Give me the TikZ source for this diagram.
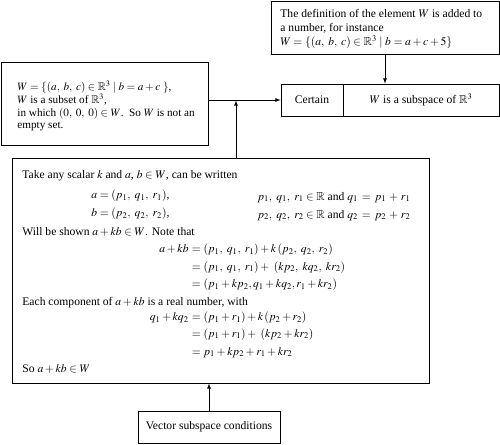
\documentclass[tikz,border=0pt]{standalone}
\usepackage{amssymb}
\usepackage{mathptmx}
\usepackage[no-math]{fontspec}
\setmainfont{Liberation Serif}

\begin{document}
\begin{tikzpicture}[x=1pt, y=-1pt, >=latex, line width=.8pt,
    every node/.style={font=\fontsize{11.6}{13.9}\selectfont},
    box/.style={draw, line width=.8pt, inner sep=0pt},
    txt/.style={anchor=base west, inner sep=0pt},
    lhs/.style={anchor=base east, inner sep=0pt}]
       \useasboundingbox (0,0) rectangle (500,444);

       % upper right: the other definition
       \node[box, minimum width=228pt, minimum height=53pt] (defbox) at (385,27.5) {};
       \node[anchor=west, inner sep=0pt, align=left,
             font=\fontsize{11.6}{14.3}\selectfont] (deftext) at (280,29)
       {The definition of the element $W$ is added to\\
        a number, for instance\\
        $W=\{(a,\;b,\;c)\in\mathbb{R}^3 \mid b=a+c+5\}$};

       % left: the set W
       \node[box, minimum width=207pt, minimum height=83pt] (setbox) at (104.5,104) {};
       \node[anchor=west, inner sep=0pt, align=left,
             font=\fontsize{11.2}{12.4}\selectfont] (settext) at (17,106)
       {$W=\{(a,\;b,\;c)\in\mathbb{R}^3 \mid b=a+c\ \}$,\\
        $W$ is a subset of $\mathbb{R}^3$,\\
        in which $(0,\;0,\;0)\in W$.\ \ So $W$ is not an\\
        empty set.};

       % result
       \node[box, minimum width=62pt, minimum height=32pt] (certbox) at (312,100) {Certain};
       \node[box, minimum width=156pt, minimum height=32pt] (subbox) at (421,100)
       {$W$ is a subspace of $\mathbb{R}^3$};

       % the proof
       \node[box, minimum width=417pt, minimum height=225pt] (proofbox) at (220.5,270.5) {};
       \node[txt] (intro) at (22,178.5) {Take any scalar $k$ and $a$, $b\in W$, can be written};
       \node[txt] (avec) at (91,198.5) {$a=(p_1,\ q_1,\ r_1)$,};
       \node[txt] (acond) at (257,200) {$p_1,\ q_1,\ r_1\in\mathbb{R}$ and $q_1\,=\,p_1\,+\,r_1$};
       \node[txt] (bvec) at (91,216.5) {$b=(p_2,\ q_2,\ r_2)$,};
       \node[txt] (bcond) at (257,218) {$p_2,\ q_2,\ r_2\in\mathbb{R}$ and $q_2\,=\,p_2\,+\,r_2$};
       \node[txt] (shown) at (22,235.5) {Will be shown $a+kb\in W$. Note that};
       \node[lhs] (eqal) at (189,252.5) {$a+kb$};
       \node[txt] (eqa1) at (189,252.5) {${}=(p_1,\ q_1,\ r_1)+k\,(p_2,\ q_2,\ r_2)$};
       \node[txt] (eqa2) at (189,270) {${}=(p_1,\ q_1,\ r_1)+\ (kp_2,\ kq_2,\ kr_2)$};
       \node[txt] (eqa3) at (189,287.5) {${}=(p_1+kp_2,q_1+kq_2,r_1+kr_2)$};
       \node[txt] (each) at (22,305.5) {Each component of $a+kb$ is a real number, with};
       \node[lhs] (eqql) at (189,320.5) {$q_1+kq_2$};
       \node[txt] (eqq1) at (189,320.5) {${}=(p_1+r_1)+k\,(p_2+r_2)$};
       \node[txt] (eqq2) at (189,337) {${}=(p_1+r_1)+\ (kp_2+kr_2)$};
       \node[txt] (eqq3) at (189,355) {${}=p_1+kp_2+r_1+kr_2$};
       \node[txt] (concl) at (22,372.5) {So $a+kb\in W$};

       % bottom
       \node[box, minimum width=142pt, minimum height=32pt] (condbox) at (209,427)
       {Vector subspace conditions};

       % arrows
       \coordinate (join) at (236,100.5);
       \draw[->] (setbox.east |- certbox.west) -- (certbox.west);
       \draw[->] (defbox.south) -- (defbox.south |- certbox.north);
       \draw[->] (proofbox.north -| join) -- (join);
       \draw[->] (condbox.north) -- (condbox.north |- proofbox.south);
\end{tikzpicture}
\end{document}
